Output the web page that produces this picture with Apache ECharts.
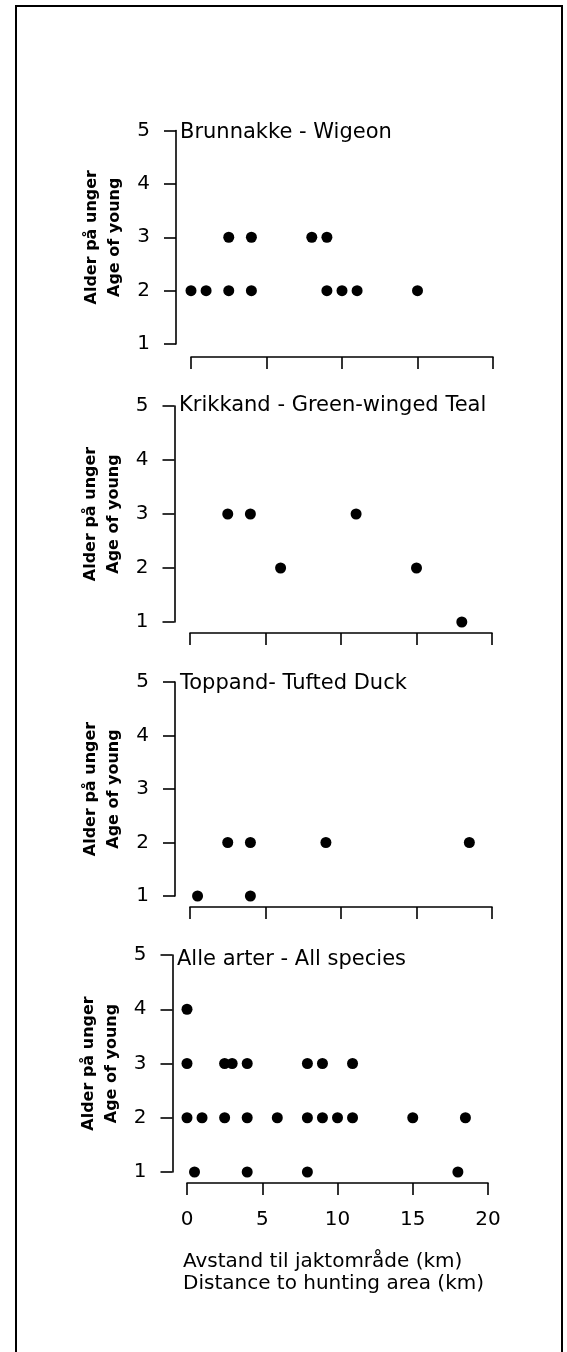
<!DOCTYPE html>
<html>
<head>
<meta charset="utf-8">
<script src="https://cdn.jsdelivr.net/npm/echarts@6/dist/echarts.min.js"></script>
<style>
html,body{margin:0;padding:0;background:#fff;}
#c{width:567px;height:1352px;}
</style>
</head>
<body>
<div id="c"></div>
<script>
// ---- data ----
const xTicks = [0, 5, 10, 15, 20];
const yTicks = [1, 2, 3, 4, 5];
const panelTitles = ['Brunnakke - Wigeon', 'Krikkand - Green-winged Teal', 'Toppand- Tufted Duck', 'Alle arter - All species'];
const yAxisTitle = 'Alder på unger\nAge of young';
const xAxisTitle = 'Avstand til jaktområde (km)\nDistance to hunting area (km)';

const wigeonX = [2.5, 4, 8, 9, 0, 1, 2.5, 4, 9, 10, 11, 15];
const wigeonY = [3, 3, 3, 3, 2, 2, 2, 2, 2, 2, 2, 2];

const tealX = [2.5, 4, 11, 6, 15, 18];
const tealY = [3, 3, 3, 2, 2, 1];

const tuftedX = [2.5, 4, 9, 18.5, 0.5, 4];
const tuftedY = [2, 2, 2, 2, 1, 1];

const allX = [0, 0, 2.5, 3, 4, 8, 9, 11, 0, 1, 2.5, 4, 6, 8, 9, 10, 11, 15, 18.5, 0.5, 4, 8, 18];
const allY = [4, 3, 3, 3, 3, 3, 3, 3, 2, 2, 2, 2, 2, 2, 2, 2, 2, 2, 2, 1, 1, 1, 1];

const panelsX = [wigeonX, tealX, tuftedX, allX];
const panelsY = [wigeonY, tealY, tuftedY, allY];

// ---- layout (pixels) ----
const layout = [
  {left: 191, width: 302, top: 130.5, height: 213.5, xOff: 13, yOff: 15, tTop: 122, tLeft: 180},
  {left: 190, width: 302, top: 406, height: 216, xOff: 11, yOff: 15.5, tTop: 395, tLeft: 179},
  {left: 190, width: 302, top: 682, height: 214, xOff: 11, yOff: 15, tTop: 673, tLeft: 180},
  {left: 187, width: 301, top: 955, height: 217, xOff: 11, yOff: 14.5, tTop: 949, tLeft: 177}
];

const FONT = 'DejaVu Sans';
const zip = (xs, ys) => xs.map((x, i) => [x, ys[i]]);

const grids = [], xAxes = [], yAxes = [], series = [], titles = [];
layout.forEach((L, i) => {
  grids.push({left: L.left, top: L.top, width: L.width, height: L.height, containLabel: false});
  xAxes.push({
    type: 'value', gridIndex: i, min: xTicks[0], max: xTicks[xTicks.length - 1],
    interval: xTicks[1] - xTicks[0], offset: L.xOff,
    axisLine: {show: true, onZero: false, lineStyle: {color: '#000', width: 1.6}},
    axisTick: {show: true, inside: false, length: 12, lineStyle: {color: '#000', width: 1.6}},
    axisLabel: {show: i === 3, margin: 27, color: '#000', fontFamily: FONT, fontSize: 20},
    splitLine: {show: false}
  });
  yAxes.push({
    type: 'value', gridIndex: i, min: yTicks[0], max: yTicks[yTicks.length - 1],
    interval: 1, offset: L.yOff,
    name: yAxisTitle, nameLocation: 'middle', nameRotate: 90, nameGap: 48,
    nameTextStyle: {color: '#000', fontFamily: FONT, fontWeight: 'bold', fontSize: 16, lineHeight: 23},
    axisLine: {show: true, onZero: false, lineStyle: {color: '#000', width: 1.6}},
    axisTick: {show: true, inside: false, length: 12, lineStyle: {color: '#000', width: 1.6}},
    axisLabel: {show: true, margin: 26, color: '#000', fontFamily: FONT, fontSize: 20},
    splitLine: {show: false}
  });
  series.push({
    type: 'scatter', xAxisIndex: i, yAxisIndex: i, clip: false,
    symbol: 'circle', symbolSize: 11,
    itemStyle: {color: '#000', opacity: 1},
    data: zip(panelsX[i], panelsY[i])
  });
  titles.push({
    text: panelTitles[i], left: L.tLeft, top: L.tTop, padding: 0,
    textStyle: {color: '#000', fontFamily: FONT, fontWeight: 'normal', fontSize: 21}
  });
});
titles.push({
  text: xAxisTitle, left: 183, top: 1251, padding: 0,
  textStyle: {color: '#000', fontFamily: FONT, fontWeight: 'normal', fontSize: 20, lineHeight: 22}
});

const chart = echarts.init(document.getElementById('c'), null, {renderer: 'canvas'});
chart.setOption({
  backgroundColor: '#fff',
  animation: false,
  title: titles,
  grid: grids,
  xAxis: xAxes,
  yAxis: yAxes,
  series: series,
  graphic: [{
    type: 'rect', shape: {x: 16, y: 6, width: 546, height: 1420},
    style: {fill: 'none', stroke: '#000', lineWidth: 2}, silent: true
  }]
});
</script>
</body>
</html>
